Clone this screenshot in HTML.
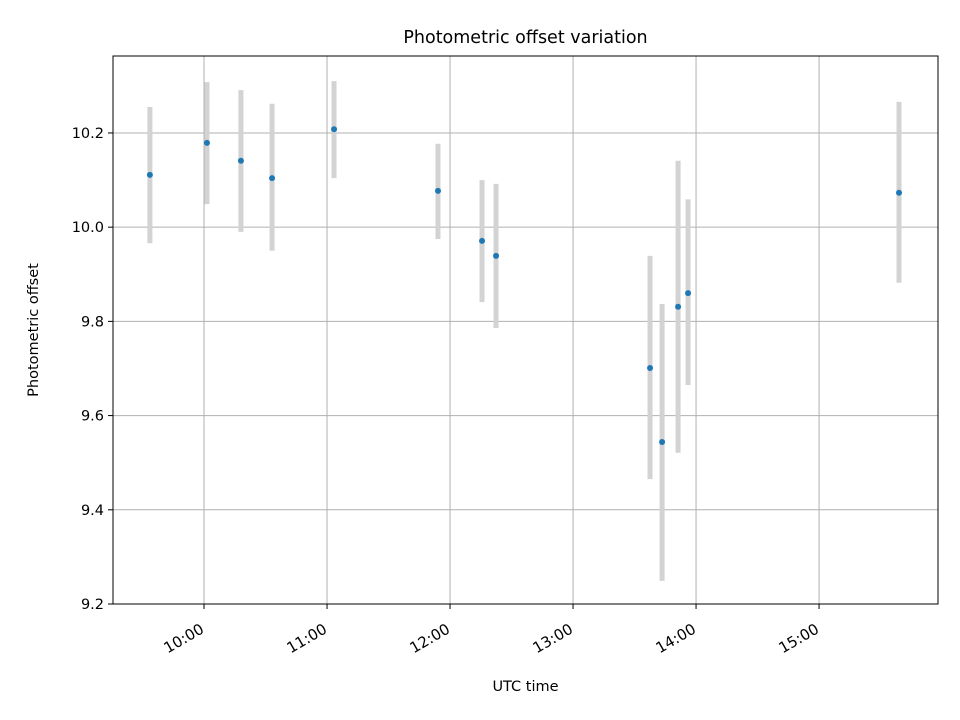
<!DOCTYPE html>
<html><head><meta charset="utf-8"><style>body{margin:0;background:#fff}svg{display:block;font-family:"DejaVu Sans","Liberation Sans",sans-serif}</style></head>
<body>
<svg id="chart" width="960" height="720"></svg>
<script>
const times = [9.56, 10.024, 10.30, 10.553, 11.057, 11.902, 12.26, 12.374, 13.626, 13.724, 13.854, 13.935, 15.65];
const values = [10.111, 10.179, 10.141, 10.104, 10.208, 10.077, 9.971, 9.939, 9.701, 9.544, 9.831, 9.860, 10.073];
const errLow = [9.966, 10.049, 9.99, 9.95, 10.104, 9.975, 9.841, 9.786, 9.465, 9.249, 9.521, 9.665, 9.882];
const errHigh = [10.255, 10.308, 10.291, 10.262, 10.31, 10.177, 10.1, 10.092, 9.939, 9.837, 10.141, 10.059, 10.266];
const xTicks = [10, 11, 12, 13, 14, 15];
const xTickLabels = ["10:00", "11:00", "12:00", "13:00", "14:00", "15:00"];
const yTicks = [9.2, 9.4, 9.6, 9.8, 10.0, 10.2];
const yTickLabels = ["9.2", "9.4", "9.6", "9.8", "10.0", "10.2"];

const L=113,R=938,T=56,B=604;
const xMin=9.26,xMax=15.967,yMin=9.2,yMax=10.3634;
const sx=v=>L+(v-xMin)/(xMax-xMin)*(R-L);
const sy=v=>B-(v-yMin)/(yMax-yMin)*(B-T);
const svg=document.getElementById('chart');
const NS='http://www.w3.org/2000/svg';
function mk(tag,attrs,parent){const e=document.createElementNS(NS,tag);for(const k in attrs)e.setAttribute(k,attrs[k]);(parent||svg).appendChild(e);return e;}

const grid=mk('g',{});


xTicks.forEach((t,i)=>{
  const x=sx(t);
  const gl=mk('line',{x1:x,x2:x,y1:T,y2:B,stroke:'#b0b0b0','stroke-width':1},grid);
  
  
  const tk=mk('line',{x1:x,x2:x,y1:B,y2:B+5,stroke:'#000','stroke-width':1});
  
  
  const tx=mk('text',{x:0,y:0,'font-size':15,'text-anchor':'end',transform:`translate(${x+1},${B+28}) rotate(-30)`});
  tx.textContent=xTickLabels[i];
  
  
});
yTicks.forEach((t,i)=>{
  const y=sy(t);
  const gl=mk('line',{x1:L,x2:R,y1:y,y2:y,stroke:'#b0b0b0','stroke-width':1},grid);
  
  
  const tk=mk('line',{x1:L-5,x2:L,y1:y,y2:y,stroke:'#000','stroke-width':1});
  
  
  const tx=mk('text',{x:L-9,y:y+5,'font-size':14.5,'text-anchor':'end'});
  tx.textContent=yTickLabels[i];
  
  
});
times.forEach((t,i)=>{
  const x=sx(t);
  const eb=mk('line',{x1:x,x2:x,y1:sy(errHigh[i]),y2:sy(errLow[i]),stroke:'#d3d3d3','stroke-width':5});
  
  
});
times.forEach((t,i)=>{
  const c=mk('circle',{cx:sx(t),cy:sy(values[i]),r:3,fill:'#1f77b4'});
  
  
});
const frame=mk('rect',{x:L,y:T,width:R-L,height:B-T,fill:'none',stroke:'#000','stroke-width':1});


const title=mk('text',{x:(L+R)/2,y:43,'font-size':17.5,'text-anchor':'middle'});
title.textContent='Photometric offset variation';


const xl=mk('text',{x:(L+R)/2,y:691,'font-size':14.5,'text-anchor':'middle'});
xl.textContent='UTC time';


const yl=mk('text',{x:0,y:0,'font-size':14.5,'text-anchor':'middle',transform:`translate(38,${(T+B)/2}) rotate(-90)`});
yl.textContent='Photometric offset';


</script>
</body></html>
